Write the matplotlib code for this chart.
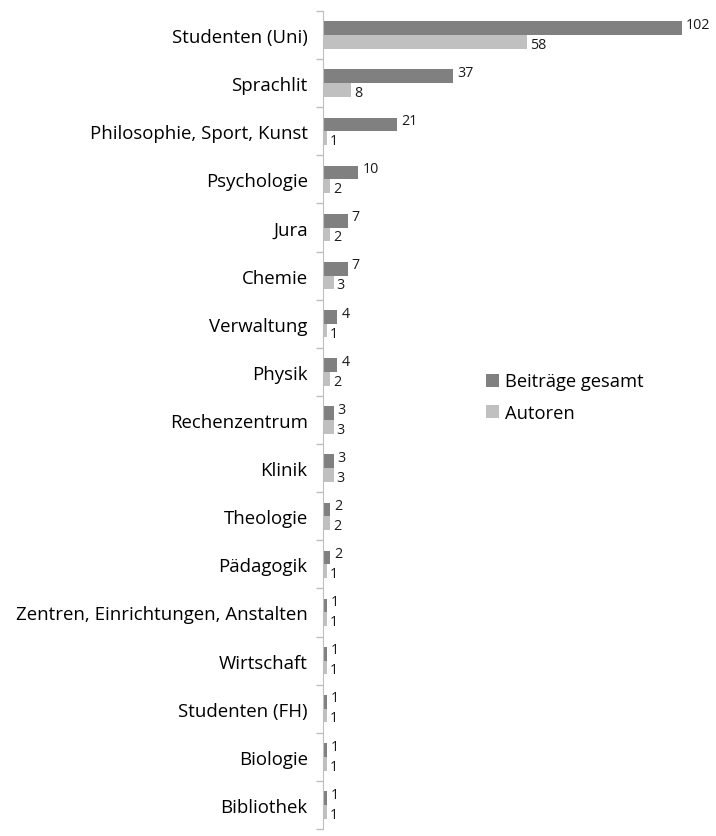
import matplotlib
matplotlib.use("Agg")
import matplotlib.pyplot as plt
import numpy as np

plt.rcParams['font.family'] = ['Open Sans', 'DejaVu Sans']

categories = ['Studenten (Uni)', 'Sprachlit', 'Philosophie, Sport, Kunst', 'Psychologie',
              'Jura', 'Chemie', 'Verwaltung', 'Physik', 'Rechenzentrum', 'Klinik',
              'Theologie', 'Pädagogik', 'Zentren, Einrichtungen, Anstalten', 'Wirtschaft',
              'Studenten (FH)', 'Biologie', 'Bibliothek']
beitraege = [102, 37, 21, 10, 7, 7, 4, 4, 3, 3, 2, 2, 1, 1, 1, 1, 1]
autoren = [58, 8, 1, 2, 2, 3, 1, 2, 3, 3, 2, 1, 1, 1, 1, 1, 1]

dark = '#808080'
light = '#c0c0c0'

fig = plt.figure(figsize=(7.16, 8.37), dpi=100)
ax = fig.add_axes([323/716, 7/837, 1 - 323/716 - 6/716, 1 - 12/837 - 7/837])

n = len(categories)
y = np.arange(n)
h = 0.285

ax.barh(y - h/2, beitraege, height=h, color=dark, label='Beiträge gesamt')
ax.barh(y + h/2, autoren, height=h, color=light, label='Autoren')

for i in range(n):
    ax.text(beitraege[i] + 1.2, y[i] - h/2 - 0.08, str(beitraege[i]), va='center', ha='left',
            fontsize=10.3, color='#1a1a1a')
    ax.text(autoren[i] + 0.8, y[i] + h/2 + 0.05, str(autoren[i]), va='center', ha='left',
            fontsize=10.3, color='#1a1a1a')

ax.set_ylim(n - 0.5, -0.5)
ax.set_xlim(0, 110)
ax.set_yticks(y)
ax.set_yticklabels(categories, fontsize=13.4)
ax.set_yticks(np.arange(n + 1) - 0.5, minor=True)
ax.tick_params(axis='y', which='major', length=0, pad=11)
ax.tick_params(axis='y', which='minor', length=5, color='#bfbfbf', width=1)
ax.set_xticks([])
for s in ['top', 'right', 'bottom']:
    ax.spines[s].set_visible(False)
ax.spines['left'].set_color('#bfbfbf')

fig.legend(loc='upper left', bbox_to_anchor=(470/716, 1 - 357/837), frameon=False,
           fontsize=13.2, handlelength=0.7, handleheight=0.7, handletextpad=0.3,
           labelspacing=0.75)

fig.savefig('out.png', dpi=100)
